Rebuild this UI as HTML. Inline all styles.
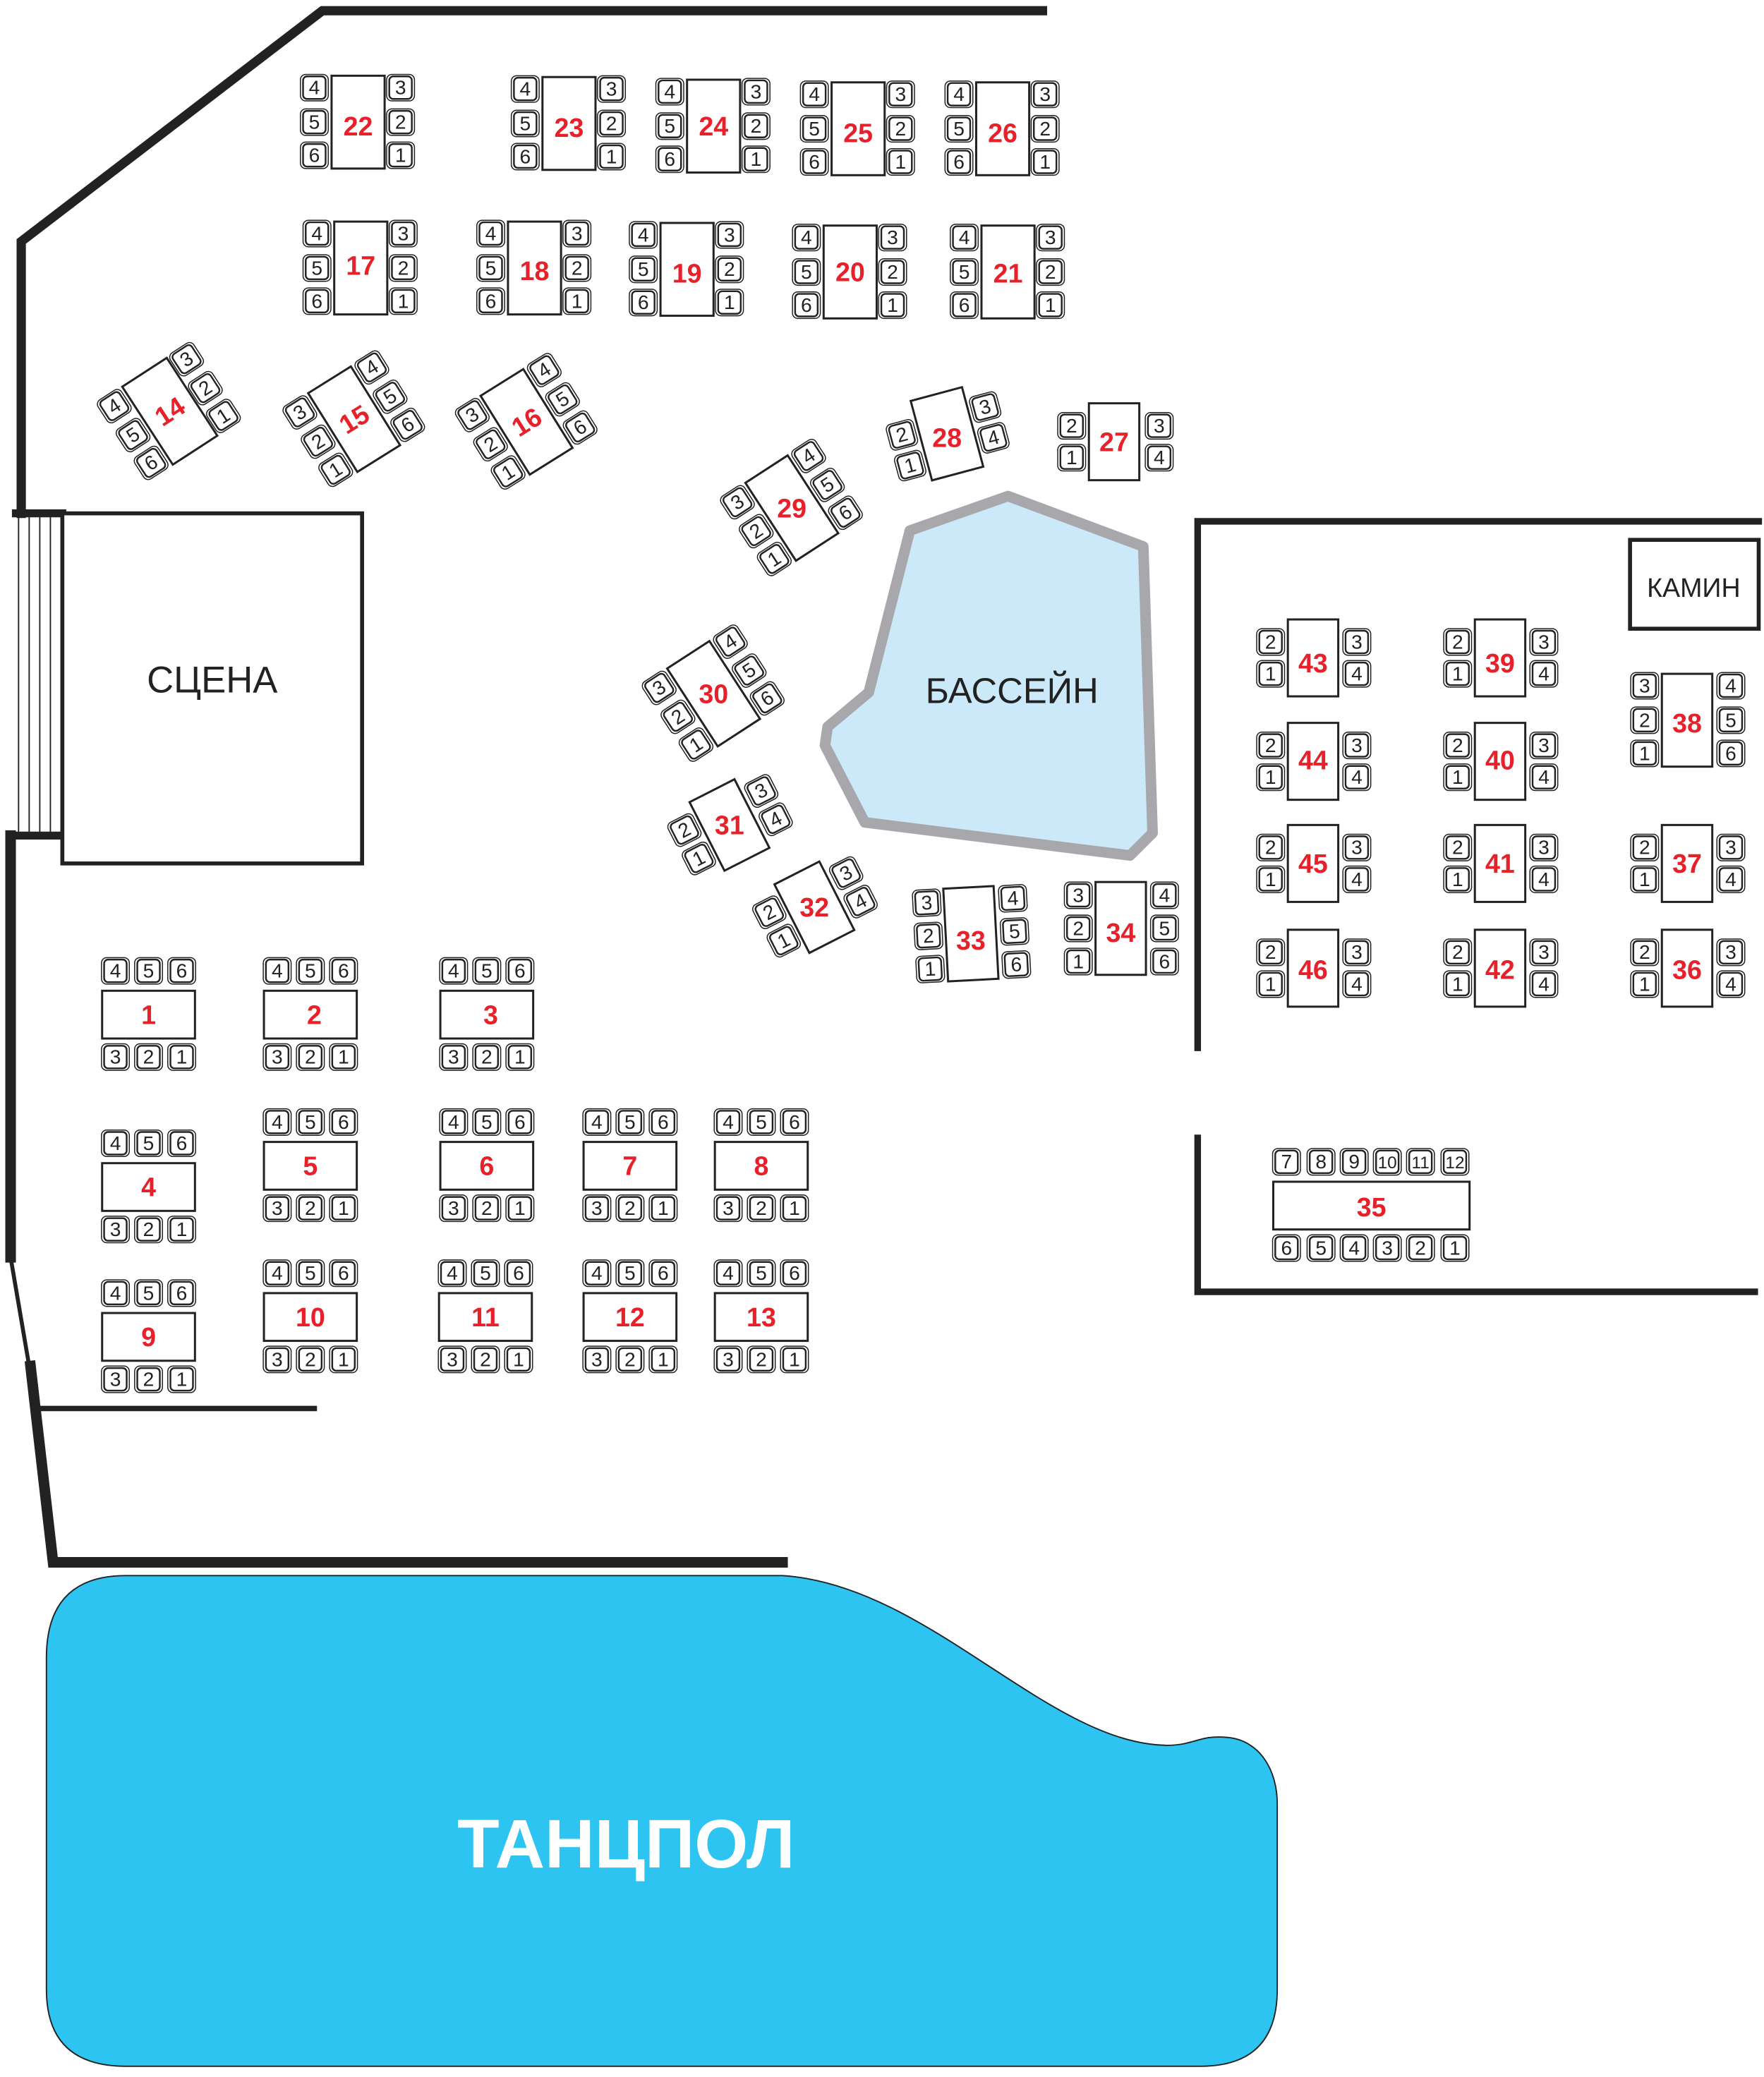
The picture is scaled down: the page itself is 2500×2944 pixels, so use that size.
<!DOCTYPE html>
<html><head><meta charset="utf-8"><style>
html,body{margin:0;padding:0;background:#fff}
svg{display:block}
.s{font-family:"Liberation Sans",sans-serif;font-size:15px;fill:#222;text-anchor:middle}
.t{font-family:"Liberation Sans",sans-serif;font-size:20px;font-weight:bold;fill:#e8202a;text-anchor:middle}
.tb{fill:#fff;stroke:#222;stroke-width:1.6}
</style></head><body>
<svg width="2500" height="2944" viewBox="0 0 1330 1566" xmlns="http://www.w3.org/2000/svg">
<defs>
<g id="c"><rect x="-10.5" y="-10" width="21" height="20" rx="4" fill="none" stroke="#222" stroke-width="0.8"/><rect x="-8.5" y="-8.5" width="17" height="17" rx="3" fill="#fff" stroke="#222" stroke-width="1.3"/></g>
</defs>
<!-- dance floor -->
<path d="M95 1188 L590 1188 C700 1195 790 1315 880 1316 C900 1316 905 1308 925 1310 C950 1312 963 1335 963 1360 L963 1500 Q963 1558 905 1558 L95 1558 Q35 1558 35 1500 L35 1250 Q35 1188 95 1188 Z" fill="#2ec4f1" stroke="#222" stroke-width="1"/>
<text x="472" y="1408" style="font-family:'Liberation Sans',sans-serif;font-size:52px;font-weight:bold;fill:#fff;text-anchor:middle">ТАНЦПОЛ</text>
<!-- walls -->
<g stroke="#222" fill="none" stroke-linecap="square">
<polyline points="786,8 243,8 16,182 16,387" stroke-width="7"/>
<line x1="8" y1="630" x2="8" y2="948" stroke-width="8"/>
<line x1="8" y1="948" x2="22" y2="1030" stroke-width="3"/>
<polyline points="23,1030 40,1178 590,1178" stroke-width="8"/>
<line x1="30" y1="1062" x2="237" y2="1062" stroke-width="4"/>
<line x1="12" y1="387" x2="47" y2="387" stroke-width="6"/>
<line x1="8" y1="630" x2="47" y2="630" stroke-width="6"/>
<line x1="14" y1="390" x2="14" y2="628" stroke-width="1"/>
<line x1="22" y1="390" x2="22" y2="628" stroke-width="1"/>
<line x1="30" y1="390" x2="30" y2="628" stroke-width="1"/>
<line x1="38" y1="390" x2="38" y2="628" stroke-width="1"/>
<polyline points="903,790 903,393 1326,393" stroke-width="5"/>
<polyline points="903,858 903,974 1323,974" stroke-width="5"/>
</g>
<rect x="47" y="387" width="226" height="264" fill="#fff" stroke="#222" stroke-width="3"/>
<text x="160" y="522" style="font-family:'Liberation Sans',sans-serif;font-size:28px;fill:#222;text-anchor:middle">СЦЕНА</text>
<rect x="1229" y="407" width="97" height="67" fill="#fff" stroke="#222" stroke-width="3"/>
<text x="1277" y="450" style="font-family:'Liberation Sans',sans-serif;font-size:20px;fill:#222;text-anchor:middle">КАМИН</text>
<!-- pool -->
<polygon points="686,400 760,374 862,412 869,628 852,645 652,620 622,562 624,548 655,522" fill="#cce9f9" stroke="#a8a8ac" stroke-width="8" stroke-linejoin="round"/>
<text x="763" y="530" style="font-family:'Liberation Sans',sans-serif;font-size:27px;fill:#222;text-anchor:middle">БАССЕЙН</text>

<!-- Type A tables: 22-26, 17-21 -->
<g transform="translate(270,92)"><rect class="tb" x="-20" y="-35" width="40" height="70"/><use href="#c" x="-33" y="-26"/><use href="#c" x="-33" y="0"/><use href="#c" x="-33" y="25"/><use href="#c" x="32" y="-26"/><use href="#c" x="32" y="0"/><use href="#c" x="32" y="25"/><text class="s" x="-33" y="-21">4</text><text class="s" x="-33" y="5">5</text><text class="s" x="-33" y="30">6</text><text class="s" x="32" y="-21">3</text><text class="s" x="32" y="5">2</text><text class="s" x="32" y="30">1</text><text class="t" x="0" y="10">22</text></g>
<g transform="translate(429,93)"><rect class="tb" x="-20" y="-35" width="40" height="70"/><use href="#c" x="-33" y="-26"/><use href="#c" x="-33" y="0"/><use href="#c" x="-33" y="25"/><use href="#c" x="32" y="-26"/><use href="#c" x="32" y="0"/><use href="#c" x="32" y="25"/><text class="s" x="-33" y="-21">4</text><text class="s" x="-33" y="5">5</text><text class="s" x="-33" y="30">6</text><text class="s" x="32" y="-21">3</text><text class="s" x="32" y="5">2</text><text class="s" x="32" y="30">1</text><text class="t" x="0" y="10">23</text></g>
<g transform="translate(538,95)"><rect class="tb" x="-20" y="-35" width="40" height="70"/><use href="#c" x="-33" y="-26"/><use href="#c" x="-33" y="0"/><use href="#c" x="-33" y="25"/><use href="#c" x="32" y="-26"/><use href="#c" x="32" y="0"/><use href="#c" x="32" y="25"/><text class="s" x="-33" y="-21">4</text><text class="s" x="-33" y="5">5</text><text class="s" x="-33" y="30">6</text><text class="s" x="32" y="-21">3</text><text class="s" x="32" y="5">2</text><text class="s" x="32" y="30">1</text><text class="t" x="0" y="7">24</text></g>
<g transform="translate(647,97)"><rect class="tb" x="-20" y="-35" width="40" height="70"/><use href="#c" x="-33" y="-26"/><use href="#c" x="-33" y="0"/><use href="#c" x="-33" y="25"/><use href="#c" x="32" y="-26"/><use href="#c" x="32" y="0"/><use href="#c" x="32" y="25"/><text class="s" x="-33" y="-21">4</text><text class="s" x="-33" y="5">5</text><text class="s" x="-33" y="30">6</text><text class="s" x="32" y="-21">3</text><text class="s" x="32" y="5">2</text><text class="s" x="32" y="30">1</text><text class="t" x="0" y="10">25</text></g>
<g transform="translate(756,97)"><rect class="tb" x="-20" y="-35" width="40" height="70"/><use href="#c" x="-33" y="-26"/><use href="#c" x="-33" y="0"/><use href="#c" x="-33" y="25"/><use href="#c" x="32" y="-26"/><use href="#c" x="32" y="0"/><use href="#c" x="32" y="25"/><text class="s" x="-33" y="-21">4</text><text class="s" x="-33" y="5">5</text><text class="s" x="-33" y="30">6</text><text class="s" x="32" y="-21">3</text><text class="s" x="32" y="5">2</text><text class="s" x="32" y="30">1</text><text class="t" x="0" y="10">26</text></g>
<g transform="translate(272,202)"><rect class="tb" x="-20" y="-35" width="40" height="70"/><use href="#c" x="-33" y="-26"/><use href="#c" x="-33" y="0"/><use href="#c" x="-33" y="25"/><use href="#c" x="32" y="-26"/><use href="#c" x="32" y="0"/><use href="#c" x="32" y="25"/><text class="s" x="-33" y="-21">4</text><text class="s" x="-33" y="5">5</text><text class="s" x="-33" y="30">6</text><text class="s" x="32" y="-21">3</text><text class="s" x="32" y="5">2</text><text class="s" x="32" y="30">1</text><text class="t" x="0" y="5">17</text></g>
<g transform="translate(403,202)"><rect class="tb" x="-20" y="-35" width="40" height="70"/><use href="#c" x="-33" y="-26"/><use href="#c" x="-33" y="0"/><use href="#c" x="-33" y="25"/><use href="#c" x="32" y="-26"/><use href="#c" x="32" y="0"/><use href="#c" x="32" y="25"/><text class="s" x="-33" y="-21">4</text><text class="s" x="-33" y="5">5</text><text class="s" x="-33" y="30">6</text><text class="s" x="32" y="-21">3</text><text class="s" x="32" y="5">2</text><text class="s" x="32" y="30">1</text><text class="t" x="0" y="9">18</text></g>
<g transform="translate(518,203)"><rect class="tb" x="-20" y="-35" width="40" height="70"/><use href="#c" x="-33" y="-26"/><use href="#c" x="-33" y="0"/><use href="#c" x="-33" y="25"/><use href="#c" x="32" y="-26"/><use href="#c" x="32" y="0"/><use href="#c" x="32" y="25"/><text class="s" x="-33" y="-21">4</text><text class="s" x="-33" y="5">5</text><text class="s" x="-33" y="30">6</text><text class="s" x="32" y="-21">3</text><text class="s" x="32" y="5">2</text><text class="s" x="32" y="30">1</text><text class="t" x="0" y="10">19</text></g>
<g transform="translate(641,205)"><rect class="tb" x="-20" y="-35" width="40" height="70"/><use href="#c" x="-33" y="-26"/><use href="#c" x="-33" y="0"/><use href="#c" x="-33" y="25"/><use href="#c" x="32" y="-26"/><use href="#c" x="32" y="0"/><use href="#c" x="32" y="25"/><text class="s" x="-33" y="-21">4</text><text class="s" x="-33" y="5">5</text><text class="s" x="-33" y="30">6</text><text class="s" x="32" y="-21">3</text><text class="s" x="32" y="5">2</text><text class="s" x="32" y="30">1</text><text class="t" x="0" y="7">20</text></g>
<g transform="translate(760,205)"><rect class="tb" x="-20" y="-35" width="40" height="70"/><use href="#c" x="-33" y="-26"/><use href="#c" x="-33" y="0"/><use href="#c" x="-33" y="25"/><use href="#c" x="32" y="-26"/><use href="#c" x="32" y="0"/><use href="#c" x="32" y="25"/><text class="s" x="-33" y="-21">4</text><text class="s" x="-33" y="5">5</text><text class="s" x="-33" y="30">6</text><text class="s" x="32" y="-21">3</text><text class="s" x="32" y="5">2</text><text class="s" x="32" y="30">1</text><text class="t" x="0" y="8">21</text></g>
<!-- 14 rotated type A -->
<g transform="translate(128,310) rotate(-33)"><rect class="tb" x="-20" y="-35" width="40" height="70"/><use href="#c" x="-33" y="-26"/><use href="#c" x="-33" y="0"/><use href="#c" x="-33" y="25"/><use href="#c" x="32" y="-26"/><use href="#c" x="32" y="0"/><use href="#c" x="32" y="25"/><text class="s" x="-33" y="-21">4</text><text class="s" x="-33" y="5">5</text><text class="s" x="-33" y="30">6</text><text class="s" x="32" y="-21">3</text><text class="s" x="32" y="5">2</text><text class="s" x="32" y="30">1</text><text class="t" x="0" y="7">14</text></g>
<!-- Type D rotated: 15,16,29,30 -->
<g transform="translate(267,316) rotate(-32)"><rect class="tb" x="-19" y="-35" width="38" height="70"/><use href="#c" x="-32" y="-26"/><use href="#c" x="-32" y="0"/><use href="#c" x="-32" y="25"/><use href="#c" x="32" y="-26"/><use href="#c" x="32" y="0"/><use href="#c" x="32" y="25"/><text class="s" x="-32" y="-21">3</text><text class="s" x="-32" y="5">2</text><text class="s" x="-32" y="30">1</text><text class="s" x="32" y="-21">4</text><text class="s" x="32" y="5">5</text><text class="s" x="32" y="30">6</text><text class="t" x="0" y="7">15</text></g>
<g transform="translate(397,318) rotate(-32)"><rect class="tb" x="-19" y="-35" width="38" height="70"/><use href="#c" x="-32" y="-26"/><use href="#c" x="-32" y="0"/><use href="#c" x="-32" y="25"/><use href="#c" x="32" y="-26"/><use href="#c" x="32" y="0"/><use href="#c" x="32" y="25"/><text class="s" x="-32" y="-21">3</text><text class="s" x="-32" y="5">2</text><text class="s" x="-32" y="30">1</text><text class="s" x="32" y="-21">4</text><text class="s" x="32" y="5">5</text><text class="s" x="32" y="30">6</text><text class="t" x="0" y="7">16</text></g>
<g transform="translate(597,383) rotate(-33)"><rect class="tb" x="-19" y="-35" width="38" height="70"/><use href="#c" x="-32" y="-26"/><use href="#c" x="-32" y="0"/><use href="#c" x="-32" y="25"/><use href="#c" x="32" y="-26"/><use href="#c" x="32" y="0"/><use href="#c" x="32" y="25"/><text class="s" x="-32" y="-21">3</text><text class="s" x="-32" y="5">2</text><text class="s" x="-32" y="30">1</text><text class="s" x="32" y="-21">4</text><text class="s" x="32" y="5">5</text><text class="s" x="32" y="30">6</text><g transform="rotate(33)"><text class="t" x="0" y="7">29</text></g></g>
<g transform="translate(538,523) rotate(-33)"><rect class="tb" x="-19" y="-35" width="38" height="70"/><use href="#c" x="-32" y="-26"/><use href="#c" x="-32" y="0"/><use href="#c" x="-32" y="25"/><use href="#c" x="32" y="-26"/><use href="#c" x="32" y="0"/><use href="#c" x="32" y="25"/><text class="s" x="-32" y="-21">3</text><text class="s" x="-32" y="5">2</text><text class="s" x="-32" y="30">1</text><text class="s" x="32" y="-21">4</text><text class="s" x="32" y="5">5</text><text class="s" x="32" y="30">6</text><g transform="rotate(33)"><text class="t" x="0" y="7">30</text></g></g>
<!-- Type C rotated: 31,32,28 -->
<g transform="translate(550,622) rotate(-27)"><rect class="tb" x="-19" y="-29" width="38" height="58"/><use href="#c" x="-32" y="-12"/><use href="#c" x="-32" y="12"/><use href="#c" x="33" y="-12"/><use href="#c" x="33" y="12"/><text class="s" x="-32" y="-7">2</text><text class="s" x="-32" y="17">1</text><text class="s" x="33" y="-7">3</text><text class="s" x="33" y="17">4</text><g transform="rotate(27)"><text class="t" x="0" y="7">31</text></g></g>
<g transform="translate(614,684) rotate(-27)"><rect class="tb" x="-19" y="-29" width="38" height="58"/><use href="#c" x="-32" y="-12"/><use href="#c" x="-32" y="12"/><use href="#c" x="33" y="-12"/><use href="#c" x="33" y="12"/><text class="s" x="-32" y="-7">2</text><text class="s" x="-32" y="17">1</text><text class="s" x="33" y="-7">3</text><text class="s" x="33" y="17">4</text><g transform="rotate(27)"><text class="t" x="0" y="7">32</text></g></g>
<g transform="translate(714,327) rotate(-15)"><rect class="tb" x="-20" y="-31" width="40" height="62"/><use href="#c" x="-33" y="-8"/><use href="#c" x="-33" y="16"/><use href="#c" x="33" y="-12"/><use href="#c" x="33" y="12"/><text class="s" x="-33" y="-3">2</text><text class="s" x="-33" y="21">1</text><text class="s" x="33" y="-7">3</text><text class="s" x="33" y="17">4</text><g transform="rotate(15)"><text class="t" x="0" y="10">28</text></g></g>
<!-- Type C upright -->
<g transform="translate(840,333)"><rect class="tb" x="-19" y="-29" width="38" height="58"/><use href="#c" x="-32" y="-12"/><use href="#c" x="-32" y="12"/><use href="#c" x="34" y="-12"/><use href="#c" x="34" y="12"/><text class="s" x="-32" y="-7">2</text><text class="s" x="-32" y="17">1</text><text class="s" x="34" y="-7">3</text><text class="s" x="34" y="17">4</text><text class="t" x="0" y="7">27</text></g>
<g transform="translate(990,496)"><rect class="tb" x="-19" y="-29" width="38" height="58"/><use href="#c" x="-32" y="-12"/><use href="#c" x="-32" y="12"/><use href="#c" x="33" y="-12"/><use href="#c" x="33" y="12"/><text class="s" x="-32" y="-7">2</text><text class="s" x="-32" y="17">1</text><text class="s" x="33" y="-7">3</text><text class="s" x="33" y="17">4</text><text class="t" x="0" y="11">43</text></g>
<g transform="translate(990,574)"><rect class="tb" x="-19" y="-29" width="38" height="58"/><use href="#c" x="-32" y="-12"/><use href="#c" x="-32" y="12"/><use href="#c" x="33" y="-12"/><use href="#c" x="33" y="12"/><text class="s" x="-32" y="-7">2</text><text class="s" x="-32" y="17">1</text><text class="s" x="33" y="-7">3</text><text class="s" x="33" y="17">4</text><text class="t" x="0" y="6">44</text></g>
<g transform="translate(990,651)"><rect class="tb" x="-19" y="-29" width="38" height="58"/><use href="#c" x="-32" y="-12"/><use href="#c" x="-32" y="12"/><use href="#c" x="33" y="-12"/><use href="#c" x="33" y="12"/><text class="s" x="-32" y="-7">2</text><text class="s" x="-32" y="17">1</text><text class="s" x="33" y="-7">3</text><text class="s" x="33" y="17">4</text><text class="t" x="0" y="7">45</text></g>
<g transform="translate(990,730)"><rect class="tb" x="-19" y="-29" width="38" height="58"/><use href="#c" x="-32" y="-12"/><use href="#c" x="-32" y="12"/><use href="#c" x="33" y="-12"/><use href="#c" x="33" y="12"/><text class="s" x="-32" y="-7">2</text><text class="s" x="-32" y="17">1</text><text class="s" x="33" y="-7">3</text><text class="s" x="33" y="17">4</text><text class="t" x="0" y="8">46</text></g>
<g transform="translate(1131,496)"><rect class="tb" x="-19" y="-29" width="38" height="58"/><use href="#c" x="-32" y="-12"/><use href="#c" x="-32" y="12"/><use href="#c" x="33" y="-12"/><use href="#c" x="33" y="12"/><text class="s" x="-32" y="-7">2</text><text class="s" x="-32" y="17">1</text><text class="s" x="33" y="-7">3</text><text class="s" x="33" y="17">4</text><text class="t" x="0" y="11">39</text></g>
<g transform="translate(1131,574)"><rect class="tb" x="-19" y="-29" width="38" height="58"/><use href="#c" x="-32" y="-12"/><use href="#c" x="-32" y="12"/><use href="#c" x="33" y="-12"/><use href="#c" x="33" y="12"/><text class="s" x="-32" y="-7">2</text><text class="s" x="-32" y="17">1</text><text class="s" x="33" y="-7">3</text><text class="s" x="33" y="17">4</text><text class="t" x="0" y="6">40</text></g>
<g transform="translate(1131,651)"><rect class="tb" x="-19" y="-29" width="38" height="58"/><use href="#c" x="-32" y="-12"/><use href="#c" x="-32" y="12"/><use href="#c" x="33" y="-12"/><use href="#c" x="33" y="12"/><text class="s" x="-32" y="-7">2</text><text class="s" x="-32" y="17">1</text><text class="s" x="33" y="-7">3</text><text class="s" x="33" y="17">4</text><text class="t" x="0" y="7">41</text></g>
<g transform="translate(1131,730)"><rect class="tb" x="-19" y="-29" width="38" height="58"/><use href="#c" x="-32" y="-12"/><use href="#c" x="-32" y="12"/><use href="#c" x="33" y="-12"/><use href="#c" x="33" y="12"/><text class="s" x="-32" y="-7">2</text><text class="s" x="-32" y="17">1</text><text class="s" x="33" y="-7">3</text><text class="s" x="33" y="17">4</text><text class="t" x="0" y="8">42</text></g>
<g transform="translate(1272,651)"><rect class="tb" x="-19" y="-29" width="38" height="58"/><use href="#c" x="-32" y="-12"/><use href="#c" x="-32" y="12"/><use href="#c" x="33" y="-12"/><use href="#c" x="33" y="12"/><text class="s" x="-32" y="-7">2</text><text class="s" x="-32" y="17">1</text><text class="s" x="33" y="-7">3</text><text class="s" x="33" y="17">4</text><text class="t" x="0" y="7">37</text></g>
<g transform="translate(1272,730)"><rect class="tb" x="-19" y="-29" width="38" height="58"/><use href="#c" x="-32" y="-12"/><use href="#c" x="-32" y="12"/><use href="#c" x="33" y="-12"/><use href="#c" x="33" y="12"/><text class="s" x="-32" y="-7">2</text><text class="s" x="-32" y="17">1</text><text class="s" x="33" y="-7">3</text><text class="s" x="33" y="17">4</text><text class="t" x="0" y="8">36</text></g>
<!-- Type D upright: 38, 34, 33 -->
<g transform="translate(1272,543)"><rect class="tb" x="-19" y="-35" width="38" height="70"/><use href="#c" x="-32" y="-26"/><use href="#c" x="-32" y="0"/><use href="#c" x="-32" y="25"/><use href="#c" x="33" y="-26"/><use href="#c" x="33" y="0"/><use href="#c" x="33" y="25"/><text class="s" x="-32" y="-21">3</text><text class="s" x="-32" y="5">2</text><text class="s" x="-32" y="30">1</text><text class="s" x="33" y="-21">4</text><text class="s" x="33" y="5">5</text><text class="s" x="33" y="30">6</text><text class="t" x="0" y="9">38</text></g>
<g transform="translate(845,700)"><rect class="tb" x="-19" y="-35" width="38" height="70"/><use href="#c" x="-32" y="-25"/><use href="#c" x="-32" y="0"/><use href="#c" x="-32" y="25"/><use href="#c" x="33" y="-25"/><use href="#c" x="33" y="0"/><use href="#c" x="33" y="25"/><text class="s" x="-32" y="-20">3</text><text class="s" x="-32" y="5">2</text><text class="s" x="-32" y="30">1</text><text class="s" x="33" y="-20">4</text><text class="s" x="33" y="5">5</text><text class="s" x="33" y="30">6</text><text class="t" x="0" y="10">34</text></g>
<g transform="translate(732,704) rotate(-3)"><rect class="tb" x="-19" y="-35" width="38" height="70"/><use href="#c" x="-32" y="-25"/><use href="#c" x="-32" y="0"/><use href="#c" x="-32" y="25"/><use href="#c" x="33" y="-25"/><use href="#c" x="33" y="0"/><use href="#c" x="33" y="25"/><text class="s" x="-32" y="-20">3</text><text class="s" x="-32" y="5">2</text><text class="s" x="-32" y="30">1</text><text class="s" x="33" y="-20">4</text><text class="s" x="33" y="5">5</text><text class="s" x="33" y="30">6</text><g transform="rotate(3)"><text class="t" x="0" y="12">33</text></g></g>
<!-- Type B: 1-13 -->
<g transform="translate(112,765)"><rect class="tb" x="-35" y="-18" width="70" height="36"/><use href="#c" x="-25" y="-33"/><use href="#c" x="0" y="-33"/><use href="#c" x="25" y="-33"/><use href="#c" x="-25" y="32"/><use href="#c" x="0" y="32"/><use href="#c" x="25" y="32"/><text class="s" x="-25" y="-28">4</text><text class="s" x="0" y="-28">5</text><text class="s" x="25" y="-28">6</text><text class="s" x="-25" y="37">3</text><text class="s" x="0" y="37">2</text><text class="s" x="25" y="37">1</text><text class="t" x="0" y="7">1</text></g>
<g transform="translate(234,765)"><rect class="tb" x="-35" y="-18" width="70" height="36"/><use href="#c" x="-25" y="-33"/><use href="#c" x="0" y="-33"/><use href="#c" x="25" y="-33"/><use href="#c" x="-25" y="32"/><use href="#c" x="0" y="32"/><use href="#c" x="25" y="32"/><text class="s" x="-25" y="-28">4</text><text class="s" x="0" y="-28">5</text><text class="s" x="25" y="-28">6</text><text class="s" x="-25" y="37">3</text><text class="s" x="0" y="37">2</text><text class="s" x="25" y="37">1</text><text class="t" x="3" y="7">2</text></g>
<g transform="translate(367,765)"><rect class="tb" x="-35" y="-18" width="70" height="36"/><use href="#c" x="-25" y="-33"/><use href="#c" x="0" y="-33"/><use href="#c" x="25" y="-33"/><use href="#c" x="-25" y="32"/><use href="#c" x="0" y="32"/><use href="#c" x="25" y="32"/><text class="s" x="-25" y="-28">4</text><text class="s" x="0" y="-28">5</text><text class="s" x="25" y="-28">6</text><text class="s" x="-25" y="37">3</text><text class="s" x="0" y="37">2</text><text class="s" x="25" y="37">1</text><text class="t" x="3" y="7">3</text></g>
<g transform="translate(112,895)"><rect class="tb" x="-35" y="-18" width="70" height="36"/><use href="#c" x="-25" y="-33"/><use href="#c" x="0" y="-33"/><use href="#c" x="25" y="-33"/><use href="#c" x="-25" y="32"/><use href="#c" x="0" y="32"/><use href="#c" x="25" y="32"/><text class="s" x="-25" y="-28">4</text><text class="s" x="0" y="-28">5</text><text class="s" x="25" y="-28">6</text><text class="s" x="-25" y="37">3</text><text class="s" x="0" y="37">2</text><text class="s" x="25" y="37">1</text><text class="t" x="0" y="7">4</text></g>
<g transform="translate(234,879)"><rect class="tb" x="-35" y="-18" width="70" height="36"/><use href="#c" x="-25" y="-33"/><use href="#c" x="0" y="-33"/><use href="#c" x="25" y="-33"/><use href="#c" x="-25" y="32"/><use href="#c" x="0" y="32"/><use href="#c" x="25" y="32"/><text class="s" x="-25" y="-28">4</text><text class="s" x="0" y="-28">5</text><text class="s" x="25" y="-28">6</text><text class="s" x="-25" y="37">3</text><text class="s" x="0" y="37">2</text><text class="s" x="25" y="37">1</text><text class="t" x="0" y="7">5</text></g>
<g transform="translate(367,879)"><rect class="tb" x="-35" y="-18" width="70" height="36"/><use href="#c" x="-25" y="-33"/><use href="#c" x="0" y="-33"/><use href="#c" x="25" y="-33"/><use href="#c" x="-25" y="32"/><use href="#c" x="0" y="32"/><use href="#c" x="25" y="32"/><text class="s" x="-25" y="-28">4</text><text class="s" x="0" y="-28">5</text><text class="s" x="25" y="-28">6</text><text class="s" x="-25" y="37">3</text><text class="s" x="0" y="37">2</text><text class="s" x="25" y="37">1</text><text class="t" x="0" y="7">6</text></g>
<g transform="translate(475,879)"><rect class="tb" x="-35" y="-18" width="70" height="36"/><use href="#c" x="-25" y="-33"/><use href="#c" x="0" y="-33"/><use href="#c" x="25" y="-33"/><use href="#c" x="-25" y="32"/><use href="#c" x="0" y="32"/><use href="#c" x="25" y="32"/><text class="s" x="-25" y="-28">4</text><text class="s" x="0" y="-28">5</text><text class="s" x="25" y="-28">6</text><text class="s" x="-25" y="37">3</text><text class="s" x="0" y="37">2</text><text class="s" x="25" y="37">1</text><text class="t" x="0" y="7">7</text></g>
<g transform="translate(574,879)"><rect class="tb" x="-35" y="-18" width="70" height="36"/><use href="#c" x="-25" y="-33"/><use href="#c" x="0" y="-33"/><use href="#c" x="25" y="-33"/><use href="#c" x="-25" y="32"/><use href="#c" x="0" y="32"/><use href="#c" x="25" y="32"/><text class="s" x="-25" y="-28">4</text><text class="s" x="0" y="-28">5</text><text class="s" x="25" y="-28">6</text><text class="s" x="-25" y="37">3</text><text class="s" x="0" y="37">2</text><text class="s" x="25" y="37">1</text><text class="t" x="0" y="7">8</text></g>
<g transform="translate(112,1008)"><rect class="tb" x="-35" y="-18" width="70" height="36"/><use href="#c" x="-25" y="-33"/><use href="#c" x="0" y="-33"/><use href="#c" x="25" y="-33"/><use href="#c" x="-25" y="32"/><use href="#c" x="0" y="32"/><use href="#c" x="25" y="32"/><text class="s" x="-25" y="-28">4</text><text class="s" x="0" y="-28">5</text><text class="s" x="25" y="-28">6</text><text class="s" x="-25" y="37">3</text><text class="s" x="0" y="37">2</text><text class="s" x="25" y="37">1</text><text class="t" x="0" y="7">9</text></g>
<g transform="translate(234,993)"><rect class="tb" x="-35" y="-18" width="70" height="36"/><use href="#c" x="-25" y="-33"/><use href="#c" x="0" y="-33"/><use href="#c" x="25" y="-33"/><use href="#c" x="-25" y="32"/><use href="#c" x="0" y="32"/><use href="#c" x="25" y="32"/><text class="s" x="-25" y="-28">4</text><text class="s" x="0" y="-28">5</text><text class="s" x="25" y="-28">6</text><text class="s" x="-25" y="37">3</text><text class="s" x="0" y="37">2</text><text class="s" x="25" y="37">1</text><text class="t" x="0" y="7">10</text></g>
<g transform="translate(366,993)"><rect class="tb" x="-35" y="-18" width="70" height="36"/><use href="#c" x="-25" y="-33"/><use href="#c" x="0" y="-33"/><use href="#c" x="25" y="-33"/><use href="#c" x="-25" y="32"/><use href="#c" x="0" y="32"/><use href="#c" x="25" y="32"/><text class="s" x="-25" y="-28">4</text><text class="s" x="0" y="-28">5</text><text class="s" x="25" y="-28">6</text><text class="s" x="-25" y="37">3</text><text class="s" x="0" y="37">2</text><text class="s" x="25" y="37">1</text><text class="t" x="0" y="7">11</text></g>
<g transform="translate(475,993)"><rect class="tb" x="-35" y="-18" width="70" height="36"/><use href="#c" x="-25" y="-33"/><use href="#c" x="0" y="-33"/><use href="#c" x="25" y="-33"/><use href="#c" x="-25" y="32"/><use href="#c" x="0" y="32"/><use href="#c" x="25" y="32"/><text class="s" x="-25" y="-28">4</text><text class="s" x="0" y="-28">5</text><text class="s" x="25" y="-28">6</text><text class="s" x="-25" y="37">3</text><text class="s" x="0" y="37">2</text><text class="s" x="25" y="37">1</text><text class="t" x="0" y="7">12</text></g>
<g transform="translate(574,993)"><rect class="tb" x="-35" y="-18" width="70" height="36"/><use href="#c" x="-25" y="-33"/><use href="#c" x="0" y="-33"/><use href="#c" x="25" y="-33"/><use href="#c" x="-25" y="32"/><use href="#c" x="0" y="32"/><use href="#c" x="25" y="32"/><text class="s" x="-25" y="-28">4</text><text class="s" x="0" y="-28">5</text><text class="s" x="25" y="-28">6</text><text class="s" x="-25" y="37">3</text><text class="s" x="0" y="37">2</text><text class="s" x="25" y="37">1</text><text class="t" x="0" y="7">13</text></g>
<!-- 35 -->
<g transform="translate(1034,909)"><rect class="tb" x="-74" y="-18" width="148" height="36"/>
<use href="#c" x="-64" y="-33"/><use href="#c" x="-38" y="-33"/><use href="#c" x="-13" y="-33"/><use href="#c" x="12" y="-33"/><use href="#c" x="37" y="-33"/><use href="#c" x="63" y="-33"/>
<use href="#c" x="-64" y="32"/><use href="#c" x="-38" y="32"/><use href="#c" x="-13" y="32"/><use href="#c" x="12" y="32"/><use href="#c" x="37" y="32"/><use href="#c" x="63" y="32"/>
<text class="s" x="-64" y="-28">7</text><text class="s" x="-38" y="-28">8</text><text class="s" x="-13" y="-28">9</text><text class="s" x="12" y="-28" style="font-size:13px">10</text><text class="s" x="37" y="-28" style="font-size:13px">11</text><text class="s" x="63" y="-28" style="font-size:13px">12</text>
<text class="s" x="-64" y="37">6</text><text class="s" x="-38" y="37">5</text><text class="s" x="-13" y="37">4</text><text class="s" x="12" y="37">3</text><text class="s" x="37" y="37">2</text><text class="s" x="63" y="37">1</text>
<text class="t" x="0" y="8">35</text></g>
</svg>
</body></html>
